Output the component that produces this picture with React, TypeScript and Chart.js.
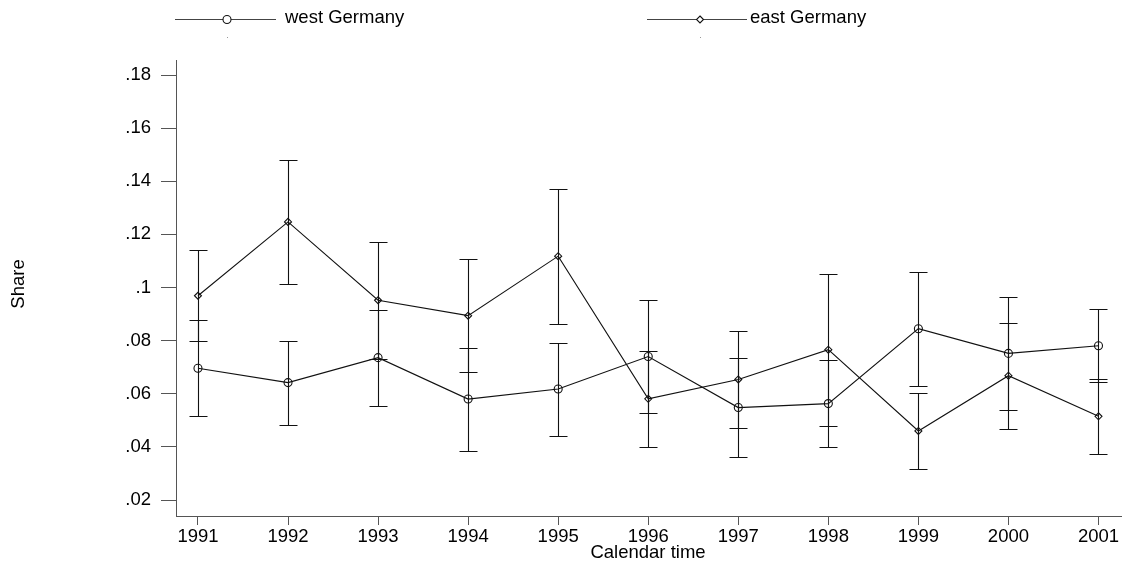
import React, { useEffect, useRef } from "react";
import { Chart, registerables } from "chart.js";

Chart.register(...registerables);

const years = [1991, 1992, 1993, 1994, 1995, 1996, 1997, 1998, 1999, 2000, 2001];

const westShare = [0.0696, 0.0642, 0.0736, 0.058, 0.0618, 0.074, 0.0548, 0.0563, 0.0845, 0.0752, 0.0781];
const westLow = [0.0516, 0.0484, 0.0555, 0.0386, 0.0442, 0.0526, 0.0362, 0.0398, 0.063, 0.054, 0.0643];
const westHigh = [0.0877, 0.0799, 0.0917, 0.0773, 0.0792, 0.0952, 0.0733, 0.0728, 0.1058, 0.0963, 0.092];

const eastShare = [0.0969, 0.1247, 0.0952, 0.0894, 0.1118, 0.0581, 0.0654, 0.0766, 0.046, 0.0668, 0.0515];
const eastLow = [0.0799, 0.1013, 0.0732, 0.0681, 0.0861, 0.0401, 0.0472, 0.048, 0.0316, 0.0468, 0.0374];
const eastHigh = [0.114, 0.148, 0.1173, 0.1106, 0.1372, 0.0761, 0.0836, 0.1052, 0.0602, 0.0866, 0.0657];

const yTicks = [0.02, 0.04, 0.06, 0.08, 0.1, 0.12, 0.14, 0.16, 0.18];
const xTicks = years;

const seriesLabels = ["west Germany", "east Germany"];
const xTitle = "Calendar time";
const yTitle = "Share";

const FONT = "'Liberation Sans', Arial, Helvetica, sans-serif";
const FONT_SIZE = 18.5;
const INK = "#111111";
const AXIS = "#555555";

const fmtY = (v: number) => String(Number(v.toFixed(2))).replace(/^0/, "");

const errorBarPlugin = {
  id: "errorBars",
  afterDatasetsDraw(chart: any) {
    const { ctx, scales } = chart;
    const xs = scales.x;
    const ys = scales.y;
    const sets = [
      [westLow, westHigh],
      [eastLow, eastHigh],
    ];
    ctx.save();
    ctx.strokeStyle = INK;
    ctx.lineWidth = 1.1;
    sets.forEach(([lo, hi]) => {
      years.forEach((yr, i) => {
        const x = Math.round(xs.getPixelForValue(yr)) + 0.5;
        const y1 = Math.round(ys.getPixelForValue(lo[i])) + 0.5;
        const y2 = Math.round(ys.getPixelForValue(hi[i])) + 0.5;
        ctx.beginPath();
        ctx.moveTo(x, y1);
        ctx.lineTo(x, y2);
        ctx.moveTo(x - 9, y1);
        ctx.lineTo(x + 9, y1);
        ctx.moveTo(x - 9, y2);
        ctx.lineTo(x + 9, y2);
        ctx.stroke();
      });
    });
    ctx.restore();
  },
};

const decorPlugin = {
  id: "decor",
  afterDraw(chart: any) {
    const { ctx } = chart;
    ctx.save();
    const entries = [
      { x0: 175, x1: 276, mx: 227, tx: 285, style: "circle" },
      { x0: 647, x1: 747, mx: 700, tx: 750, style: "diamond" },
    ];
    entries.forEach((e, k) => {
      const y = 19.5;
      ctx.strokeStyle = "#444";
      ctx.lineWidth = 1.1;
      ctx.beginPath();
      ctx.moveTo(e.x0, y);
      ctx.lineTo(e.x1, y);
      ctx.stroke();
      ctx.strokeStyle = INK;
      ctx.fillStyle = "#ffffff";
      ctx.beginPath();
      if (e.style === "circle") {
        ctx.arc(e.mx, y, 4, 0, Math.PI * 2);
      } else {
        ctx.moveTo(e.mx, y - 3.5);
        ctx.lineTo(e.mx + 3.5, y);
        ctx.lineTo(e.mx, y + 3.5);
        ctx.lineTo(e.mx - 3.5, y);
        ctx.closePath();
      }
      ctx.fill();
      ctx.stroke();
      ctx.fillStyle = "#000";
      ctx.font = `${FONT_SIZE}px ${FONT}`;
      ctx.textAlign = "left";
      ctx.textBaseline = "middle";
      ctx.fillText(seriesLabels[k], e.tx, 18);
      ctx.fillStyle = "#999";
      ctx.fillRect(e.mx, 37, 1, 1);
    });
    ctx.fillStyle = "#000";
    ctx.font = `${FONT_SIZE}px ${FONT}`;
    ctx.textAlign = "center";
    ctx.textBaseline = "middle";
    ctx.fillText(xTitle, 648, 553);
    ctx.translate(19, 284);
    ctx.rotate(-Math.PI / 2);
    ctx.fillText(yTitle, 0, 0);
    ctx.restore();
  },
};

export default function App() {
  const ref = useRef<HTMLCanvasElement | null>(null);

  useEffect(() => {
    document.body.style.margin = "0";
    if (!ref.current) return;
    const chart = new Chart(ref.current, {
      type: "line",
      data: {
        datasets: [
          {
            label: seriesLabels[0],
            data: years.map((yr, i) => ({ x: yr, y: westShare[i] })),
            borderColor: INK,
            borderWidth: 1.1,
            pointStyle: "circle",
            pointRadius: 4,
            pointHoverRadius: 4,
            pointBorderWidth: 1.1,
            pointBorderColor: INK,
            pointBackgroundColor: "rgba(0,0,0,0)",
            tension: 0,
            fill: false,
          },
          {
            label: seriesLabels[1],
            data: years.map((yr, i) => ({ x: yr, y: eastShare[i] })),
            borderColor: INK,
            borderWidth: 1.1,
            pointStyle: "rectRot",
            pointRadius: 3.5,
            pointHoverRadius: 3.5,
            pointBorderWidth: 1.1,
            pointBorderColor: INK,
            pointBackgroundColor: "rgba(0,0,0,0)",
            tension: 0,
            fill: false,
          },
        ],
      },
      options: {
        animation: false,
        responsive: false,
        maintainAspectRatio: false,
        layout: { autoPadding: false, padding: { top: 60, left: 0, right: 0, bottom: 0 } },
        plugins: {
          legend: { display: false },
          tooltip: { enabled: false },
        },
        scales: {
          x: {
            type: "linear",
            min: 1990.756,
            max: 2001.261,
            afterBuildTicks: (s: any) => {
              s.ticks = xTicks.map((v) => ({ value: v }));
            },
            afterFit: (s: any) => {
              s.height = 51;
              s.paddingLeft = 0;
              s.paddingRight = 0;
            },
            grid: { drawOnChartArea: false, drawTicks: true, tickLength: 9, color: AXIS },
            border: { display: true, color: AXIS, width: 1 },
            ticks: {
              autoSkip: false,
              maxRotation: 0,
              padding: 1,
              color: "#000",
              font: { family: FONT, size: FONT_SIZE },
              callback: (v: any) => String(v),
            },
          },
          y: {
            type: "linear",
            min: 0.01398,
            max: 0.18565,
            afterBuildTicks: (s: any) => {
              s.ticks = yTicks.map((v) => ({ value: v }));
            },
            afterFit: (s: any) => {
              s.width = 176;
              s.paddingTop = 0;
              s.paddingBottom = 0;
            },
            grid: { drawOnChartArea: false, drawTicks: true, tickLength: 15, color: AXIS },
            border: { display: true, color: AXIS, width: 1 },
            ticks: {
              autoSkip: false,
              padding: 10,
              color: "#000",
              font: { family: FONT, size: FONT_SIZE },
              callback: (v: any) => fmtY(Number(v)),
            },
          },
        },
      },
      plugins: [errorBarPlugin, decorPlugin],
    } as any);
    return () => chart.destroy();
  }, []);

  return (
    <div style={{ position: "absolute", left: 0, top: 0, width: 1122, height: 567, background: "#fff" }}>
      <canvas ref={ref} width={1122} height={567} style={{ display: "block", width: 1122, height: 567 }} />
    </div>
  );
}
